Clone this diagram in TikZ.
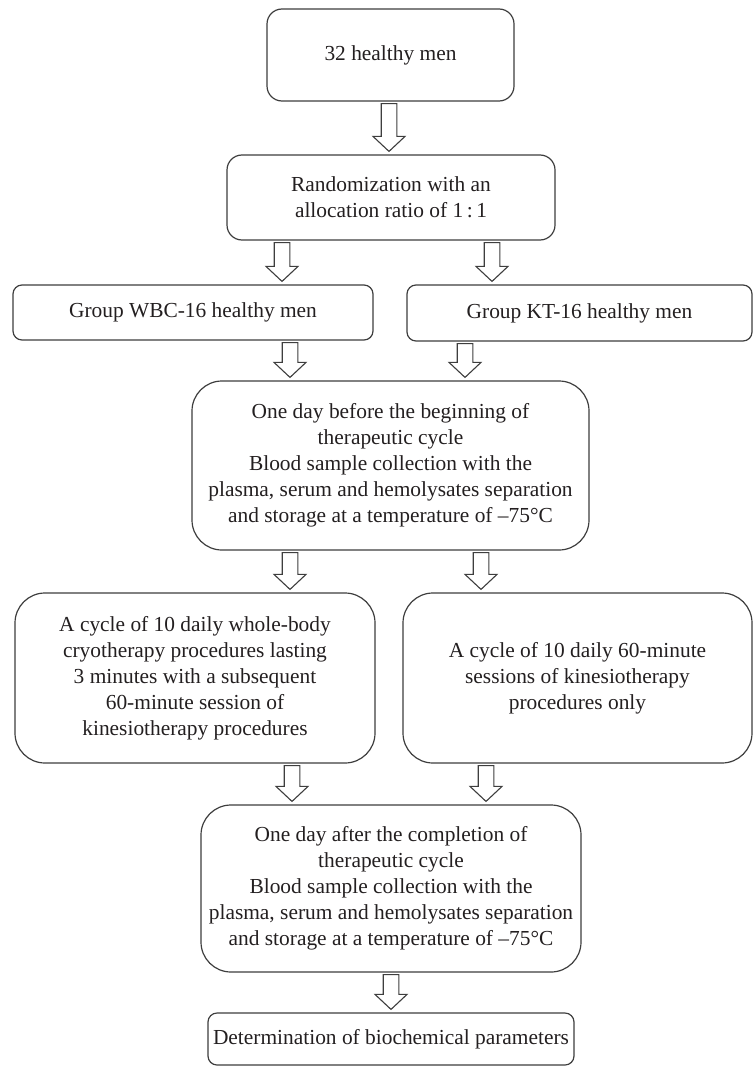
\documentclass[tikz,border=0pt]{standalone}
\usepackage{fontspec}
\setmainfont{Liberation Serif}
\usetikzlibrary{calc}
\definecolor{flowline}{RGB}{62,62,62}
\definecolor{flowtext}{RGB}{35,31,32}

\newcommand{\flowarrow}[3]{%
  \draw[hollow] let \p1=(#1,0 |- #2.south), \p2=(#1,0 |- #3.north) in
    (\x1-3.9pt,\y1-1pt) -- (\x1-3.9pt,\y2+9pt) -- (\x1-8pt,\y2+9pt) -- (\x1,\y2+1.5pt)
    -- (\x1+8pt,\y2+9pt) -- (\x1+3.9pt,\y2+9pt) -- (\x1+3.9pt,\y1-1pt) -- cycle;}

\begin{document}
\begin{tikzpicture}[
  x=0.5pt, y=-0.5pt,
  font=\fontsize{10.7}{13}\selectfont, text=flowtext,
  stage/.style={draw=flowline,line width=.6pt,rounded corners=7.5pt,align=center,inner sep=0pt},
  group/.style={draw=flowline,line width=.6pt,rounded corners=4.5pt,align=center,inner sep=0pt},
  phase/.style={draw=flowline,line width=.6pt,rounded corners=15pt,align=center,inner sep=0pt},
  hollow/.style={draw=flowline,line width=.55pt,fill=white,line join=miter}
]
\useasboundingbox (0,0) rectangle (755,1070);

\node[stage,minimum width=123.5pt,minimum height=46pt] (men) at (390.5,55) {32 healthy men};
\node[stage,minimum width=164pt,minimum height=42.5pt] (random) at (391,197.5)
 {Randomization with an\\allocation ratio of 1\,:\,1};

\node[group,minimum width=180pt,minimum height=27.5pt] (wbc) at (193,312.5) {Group WBC-16 healthy men};
\node[group,minimum width=172.5pt,minimum height=28pt] (kt) at (579.5,313) {Group KT-16 healthy men};

\node[phase,minimum width=198.5pt,minimum height=84.5pt] (before) at (390.5,465.5)
 {One day before the beginning of\\therapeutic cycle\\Blood sample collection with the\\
  plasma, serum and hemolysates separation\\and storage at a temperature of –75°C};

\node[phase,minimum width=180pt,minimum height=85pt] (wbccycle) at (195,678)
 {A cycle of 10 daily whole-body\\cryotherapy procedures lasting\\3 minutes with a subsequent\\
  60-minute session of\\kinesiotherapy procedures};
\node[phase,minimum width=174.5pt,minimum height=85pt] (ktcycle) at (577.5,678)
 {A cycle of 10 daily 60-minute\\sessions of kinesiotherapy\\procedures only};

\node[phase,minimum width=190pt,minimum height=83.5pt] (after) at (391,888.5)
 {One day after the completion of\\therapeutic cycle\\Blood sample collection with the\\
  plasma, serum and hemolysates separation\\and storage at a temperature of –75°C};

\node[group,minimum width=183pt,minimum height=26pt] (params) at (391,1039)
 {Determination of biochemical parameters};

\flowarrow{389}{men}{random}
\flowarrow{282}{random}{wbc}
\flowarrow{492}{random}{kt}
\flowarrow{290}{wbc}{before}
\flowarrow{465}{kt}{before}
\flowarrow{290}{before}{wbccycle}
\flowarrow{481}{before}{ktcycle}
\flowarrow{292}{wbccycle}{after}
\flowarrow{486}{ktcycle}{after}
\flowarrow{391}{after}{params}
\end{tikzpicture}
\end{document}
